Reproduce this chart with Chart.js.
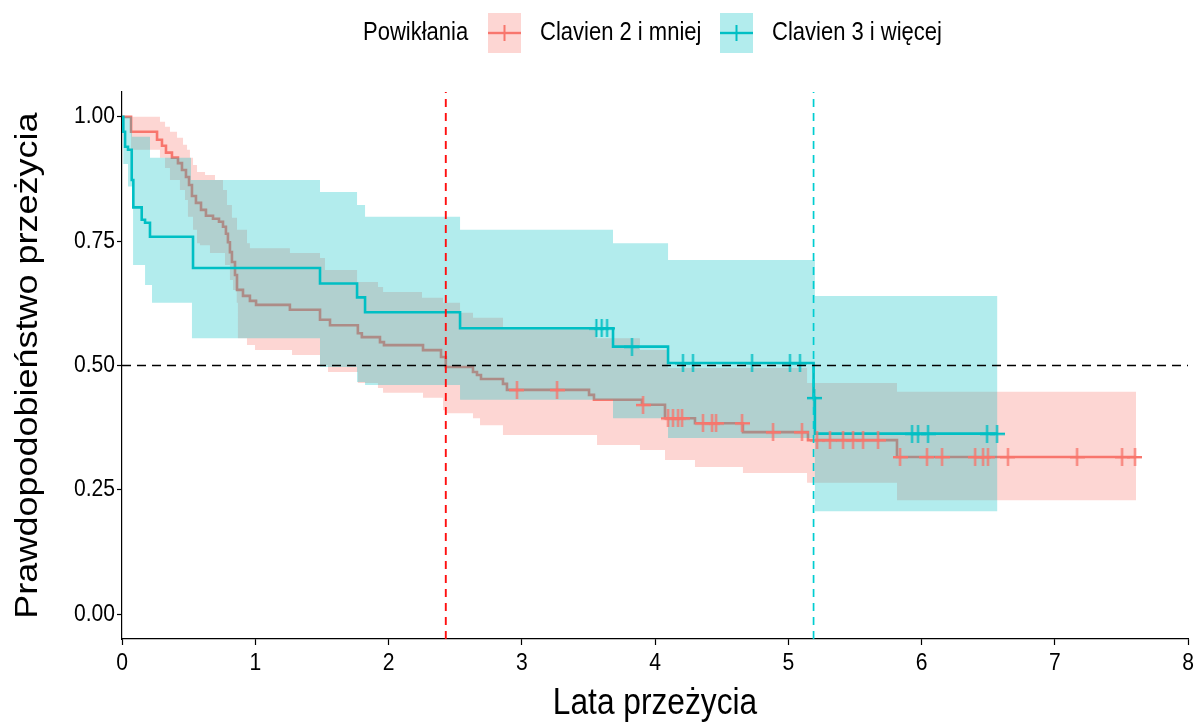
<!DOCTYPE html>
<html>
<head>
<meta charset="utf-8">
<script src="https://cdn.jsdelivr.net/npm/chart.js@4.4.0/dist/chart.umd.min.js"></script>
<style>
  html, body { margin: 0; padding: 0; background: #fff; }
</style>
</head>
<body>
<canvas id="km" width="1202" height="723"></canvas>
<script>
const FONT = "'Liberation Sans', Arial, sans-serif";
const SX = 0.88; // the source picture is squeezed sideways, text and marks included
const RED = '#F8766D';
const CYAN = '#00BFC4';
const RED_FILL = 'rgba(248,118,109,0.3)';
const CYAN_FILL = 'rgba(0,191,196,0.3)';

// Clavien 2 i mniej: survival curve (value holds from each time onwards)
const redTime = [0, 0.068, 0.263, 0.30, 0.33, 0.375, 0.42, 0.45, 0.48, 0.503, 0.525, 0.555, 0.593, 0.63, 0.683, 0.728, 0.758, 0.78, 0.795, 0.81, 0.825, 0.848, 0.863, 0.908, 0.96, 1.006, 1.26, 1.486, 1.561, 1.77, 1.80, 1.936, 1.966, 2.259, 2.394, 2.43, 2.634, 2.664, 2.694, 2.859, 2.889, 3.505, 3.542, 3.902, 4.075, 4.30, 4.66, 5.148, 5.816];
const redSurv = [1.000, 0.970, 0.954, 0.942, 0.928, 0.918, 0.907, 0.893, 0.879, 0.863, 0.841, 0.827, 0.813, 0.801, 0.795, 0.789, 0.779, 0.765, 0.748, 0.728, 0.708, 0.682, 0.652, 0.640, 0.630, 0.622, 0.612, 0.592, 0.581, 0.565, 0.557, 0.547, 0.541, 0.531, 0.517, 0.497, 0.487, 0.481, 0.473, 0.463, 0.451, 0.441, 0.431, 0.421, 0.394, 0.384, 0.366, 0.350, 0.316];
const redEnd = 7.61;
const redCensor = [2.964, 3.265, 3.91, 4.098, 4.135, 4.173, 4.203, 4.36, 4.428, 4.458, 4.653, 4.886, 5.103, 5.216, 5.313, 5.411, 5.486, 5.561, 5.674, 5.839, 6.041, 6.154, 6.402, 6.462, 6.499, 6.649, 7.167, 7.505, 7.602];
const redUpperTime = [0, 0.285, 0.323, 0.36, 0.413, 0.458, 0.488, 0.51, 0.533, 0.563, 0.623, 0.698, 0.758, 0.788, 0.825, 0.863, 0.938, 0.96, 1.26, 1.486, 1.523, 1.764, 1.921, 1.959, 2.251, 2.409, 2.537, 2.634, 2.859, 3.565, 3.887, 4.098, 5.141, 5.816];
const redUpper = [1.000, 0.990, 0.980, 0.970, 0.958, 0.944, 0.934, 0.918, 0.903, 0.889, 0.883, 0.873, 0.853, 0.823, 0.797, 0.773, 0.746, 0.736, 0.726, 0.716, 0.692, 0.668, 0.658, 0.648, 0.636, 0.626, 0.606, 0.596, 0.575, 0.555, 0.531, 0.495, 0.465, 0.447];
const redLowerTime = [0, 0.068, 0.285, 0.323, 0.36, 0.435, 0.473, 0.495, 0.533, 0.563, 0.585, 0.66, 0.773, 0.81, 0.833, 0.861, 0.87, 0.938, 0.998, 1.276, 1.486, 1.546, 1.77, 1.921, 1.959, 2.259, 2.409, 2.424, 2.634, 2.687, 2.859, 3.565, 3.887, 4.075, 4.30, 4.66, 5.141, 5.816];
const redLower = [1.000, 0.934, 0.918, 0.897, 0.873, 0.853, 0.833, 0.799, 0.773, 0.746, 0.742, 0.726, 0.702, 0.672, 0.652, 0.626, 0.555, 0.541, 0.531, 0.521, 0.501, 0.487, 0.465, 0.455, 0.445, 0.435, 0.410, 0.404, 0.394, 0.380, 0.360, 0.340, 0.330, 0.310, 0.296, 0.284, 0.264, 0.229];

// Clavien 3 i więcej
const cyanTime = [0, 0.01, 0.023, 0.045, 0.073, 0.085, 0.148, 0.173, 0.21, 0.533, 1.486, 1.764, 1.824, 2.537, 3.685, 4.098, 5.19, 5.20];
const cyanSurv = [1.000, 0.970, 0.940, 0.934, 0.873, 0.818, 0.793, 0.787, 0.759, 0.696, 0.665, 0.637, 0.607, 0.575, 0.538, 0.505, 0.435, 0.363];
const cyanEnd = 6.57;
const cyanCensor = [3.56, 3.60, 3.64, 3.827, 4.21, 4.285, 4.728, 5.013, 5.088, 5.195, 5.929, 5.974, 6.049, 6.492, 6.567];
const cyanUpperTime = [0, 0.075, 0.21, 0.518, 1.486, 1.764, 1.824, 2.537, 3.685, 4.098, 5.20];
const cyanUpper = [1.000, 0.960, 0.918, 0.873, 0.849, 0.823, 0.799, 0.773, 0.746, 0.712, 0.640];
const cyanLowerTime = [0, 0.01, 0.045, 0.083, 0.173, 0.225, 0.525, 1.486, 1.764, 1.824, 2.537, 3.685, 4.098, 5.20];
const cyanLower = [1.000, 0.905, 0.860, 0.702, 0.662, 0.626, 0.555, 0.497, 0.467, 0.461, 0.431, 0.394, 0.354, 0.207];

const xTicks = [0, 1, 2, 3, 4, 5, 6, 7, 8];
const xTickLabels = ['0', '1', '2', '3', '4', '5', '6', '7', '8'];
const yTicks = [0, 0.25, 0.5, 0.75, 1];
const yTickLabels = ['0.00', '0.25', '0.50', '0.75', '1.00'];
const groupLabels = ['Clavien 2 i mniej', 'Clavien 3 i więcej'];
const legendTitle = 'Powikłania';
const xTitle = 'Lata przeżycia';
const yTitle = 'Prawdopodobieństwo przeżycia';

function steps(times, values, end) {
    const pts = times.map((t, i) => ({ x: t, y: values[i] }));
    pts.push({ x: end, y: values[values.length - 1] });
    return pts;
}

function survAt(times, values, t) {
    let v = values[0];
    for (let i = 0; i < times.length; i++) {
        if (times[i] <= t) v = values[i];
    }
    return v;
}

function medianOf(times, values) {
    for (let i = 0; i < times.length; i++) {
        if (values[i] <= 0.5) return times[i];
    }
    return null;
}

// "+" censor mark, a bit narrower than tall like in the source
function plusMark(color) {
    const c = document.createElement('canvas');
    c.width = 15; c.height = 18;
    const g = c.getContext('2d');
    g.fillStyle = color;
    g.fillRect(0, 8, 15, 2.4);
    g.fillRect(6.5, 0, 2, 18);
    return c;
}

const redMedian = medianOf(redTime, redSurv);
const cyanMedian = medianOf(cyanTime, cyanSurv);

const hidden = { borderColor: 'rgba(0,0,0,0)', borderWidth: 0, pointRadius: 0 };

const datasets = [
    { ...hidden, data: steps(redUpperTime, redUpper, redEnd), stepped: true, fill: '+1', backgroundColor: RED_FILL, order: 6 },
    { ...hidden, data: steps(redLowerTime, redLower, redEnd), stepped: true, fill: false, order: 6 },
    { data: steps(redTime, redSurv, redEnd), stepped: true, borderColor: RED, borderWidth: 2.6, pointRadius: 0, order: 5 },
    { ...hidden, data: steps(cyanUpperTime, cyanUpper, cyanEnd), stepped: true, fill: '+1', backgroundColor: CYAN_FILL, order: 4 },
    { ...hidden, data: steps(cyanLowerTime, cyanLower, cyanEnd), stepped: true, fill: false, order: 4 },
    { data: steps(cyanTime, cyanSurv, cyanEnd), stepped: true, borderColor: CYAN, borderWidth: 2.6, pointRadius: 0, order: 3 },
    {
        data: redCensor.map(t => ({ x: t, y: survAt(redTime, redSurv, t) })),
        showLine: false, pointStyle: plusMark(RED), pointRadius: 8, order: 2
    },
    {
        data: cyanCensor.map(t => ({ x: t, y: survAt(cyanTime, cyanSurv, t) })),
        showLine: false, pointStyle: plusMark(CYAN), pointRadius: 8, order: 2
    },
    { data: [{ x: 0, y: 0.5 }, { x: 8, y: 0.5 }], borderColor: '#000', borderWidth: 1.6, borderDash: [9, 6], pointRadius: 0, order: 1 },
    { data: [{ x: redMedian, y: -0.05 }, { x: redMedian, y: 1.05 }], borderColor: '#ff1010', borderWidth: 1.9, borderDash: [8, 6], pointRadius: 0, order: 1 },
    { data: [{ x: cyanMedian, y: -0.05 }, { x: cyanMedian, y: 1.05 }], borderColor: '#00cdd1', borderWidth: 1.7, borderDash: [8, 6], pointRadius: 0, order: 1 }
];

function squashText(ctx, text, x, y, size, align, baseline, rotated) {
    ctx.save();
    ctx.translate(x, y);
    if (rotated) {
        ctx.rotate(-Math.PI / 2);
        ctx.scale(1, SX);
    } else {
        ctx.scale(SX, 1);
    }
    ctx.font = `${size}px ${FONT}`;
    ctx.textAlign = align;
    ctx.textBaseline = baseline;
    ctx.fillStyle = '#000';
    ctx.fillText(text, 0, 0);
    ctx.restore();
}

// tick labels, axis titles and the top legend
const kmText = {
    id: 'kmText',
    afterDraw(chart) {
        const ctx = chart.ctx;
        const xs = chart.scales.x, ys = chart.scales.y;
        const area = chart.chartArea;

        xTicks.forEach((v, i) => squashText(ctx, xTickLabels[i], xs.getPixelForValue(v), 663, 24, 'center', 'middle'));
        yTicks.forEach((v, i) => squashText(ctx, yTickLabels[i], 115, ys.getPixelForValue(v), 24, 'right', 'middle'));
        squashText(ctx, xTitle, (area.left + area.right) / 2, 714, 36, 'center', 'alphabetic');
        squashText(ctx, yTitle, 37, (area.top + area.bottom) / 2, 36, 'center', 'alphabetic', true);

        const cy = 33;
        squashText(ctx, legendTitle, 363, cy, 25, 'left', 'middle');
        const keyX = [488, 720];
        const labX = [540, 772];
        const cols = [[RED, RED_FILL], [CYAN, CYAN_FILL]];
        groupLabels.forEach((lab, i) => {
            const [line, fill] = cols[i];
            const x = keyX[i];
            ctx.save();
            ctx.fillStyle = fill;
            ctx.fillRect(x, cy - 20, 33, 40);
            ctx.fillStyle = line;
            ctx.fillRect(x, cy - 1.2, 33, 2.4);
            ctx.fillRect(x + 15.5, cy - 8, 2, 16);
            ctx.restore();
            squashText(ctx, lab, labX[i], cy, 25, 'left', 'middle');
        });
    }
};

new Chart(document.getElementById('km'), {
    type: 'line',
    data: { datasets },
    options: {
        responsive: false,
        animation: false,
        devicePixelRatio: 1,
        layout: { padding: { top: 92, right: 14, left: 0, bottom: 0 } },
        elements: { line: { borderJoinStyle: 'miter', borderCapStyle: 'butt', fill: false } },
        plugins: { legend: { display: false }, tooltip: { enabled: false } },
        scales: {
            x: {
                type: 'linear', min: 0, max: 8,
                afterFit: s => { s.height = 84; },
                afterBuildTicks: s => { s.ticks = xTicks.map(v => ({ value: v })); },
                grid: { drawOnChartArea: false, drawTicks: true, tickLength: 6, color: '#000', tickWidth: 1.2 },
                border: { display: true, color: '#000', width: 1.2 },
                ticks: { display: false }
            },
            y: {
                type: 'linear', min: -0.05, max: 1.05,
                afterFit: s => { s.width = 122; },
                afterBuildTicks: s => { s.ticks = yTicks.map(v => ({ value: v })); },
                grid: { drawOnChartArea: false, drawTicks: true, tickLength: 5, color: '#000', tickWidth: 1.2 },
                border: { display: true, color: '#000', width: 1.2 },
                ticks: { display: false }
            }
        }
    },
    plugins: [kmText]
});
</script>
</body>
</html>
